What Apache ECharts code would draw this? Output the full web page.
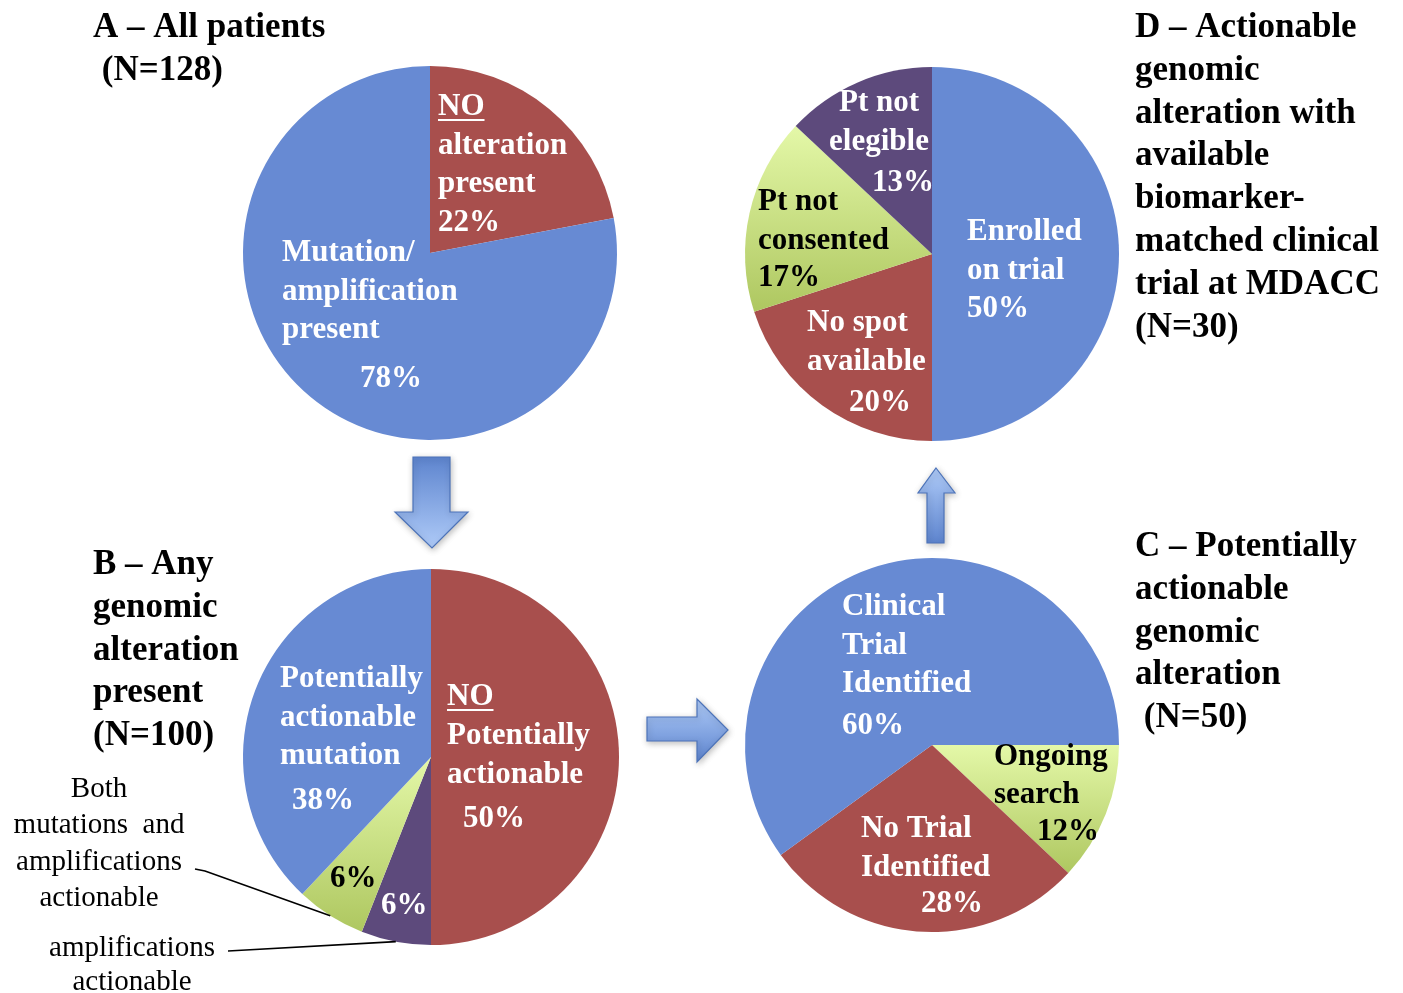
<!DOCTYPE html>
<html>
<head>
<meta charset="utf-8">
<script src="https://cdn.jsdelivr.net/npm/echarts@6/dist/echarts.min.js"></script>
<style>
  html, body { margin: 0; padding: 0; background: #ffffff; }
  #chart { width: 1403px; height: 993px; }
</style>
</head>
<body>
<div id="chart"></div>
<script>
// ---- Data -------------------------------------------------------------
const aNames  = ['NO\nalteration\npresent', 'Mutation/\namplification\npresent'];
const aValues = [22, 78];

const bNames  = ['NO\nPotentially\nactionable', 'amplifications\nactionable',
                 'Both\nmutations  and\namplifications\nactionable', 'Potentially\nactionable\nmutation'];
const bValues = [50, 6, 6, 38];

const cNames  = ['Ongoing\nsearch', 'No Trial\nIdentified', 'Clinical\nTrial\nIdentified'];
const cValues = [12, 28, 60];

const dNames  = ['Enrolled\non trial', 'No spot\navailable', 'Pt not\nconsented', 'Pt not\nelegible'];
const dValues = [50, 20, 17, 13];

const panelTitles = [
  'A – All patients\n (N=128)',
  'B – Any\ngenomic\nalteration\npresent\n(N=100)',
  'C – Potentially\nactionable\ngenomic\nalteration\n (N=50)',
  'D – Actionable\ngenomic\nalteration with\navailable\nbiomarker-\nmatched clinical\ntrial at MDACC\n(N=30)'
];

// ---- Styling ----------------------------------------------------------
const FONT = '"Liberation Serif", "Times New Roman", serif';
const BLUE = '#678AD3', RED = '#A84F4D', PURPLE = '#5D4A7C';
const GREEN = {
  type: 'linear', x: 0, y: 0, x2: 0, y2: 1,
  colorStops: [{ offset: 0, color: '#E4F8A8' }, { offset: 1, color: '#AEC760' }]
};
const LABEL_FONT = 'bold 31px ' + FONT;
const NOTE_FONT = '29px ' + FONT;
const DY = 2; // baseline nudge for middle-aligned serif text

// Pie placement and in-slice label layout
const panels = [
  { names: aNames, values: aValues, colors: [RED, BLUE], center: [430, 253], r: 187, start: 90,
    labels: [
      { x: 438, y: 105, lh: 38.5, px: 438, py: 220.5, fill: '#fff', under: true },
      { x: 282, y: 251, lh: 38.5, px: 360, py: 377, fill: '#fff' }
    ] },
  { names: bNames, values: bValues, colors: [RED, PURPLE, GREEN, BLUE], center: [431, 757], r: 188, start: 90,
    labels: [
      { x: 447, y: 695, lh: 39, px: 463, py: 817, fill: '#fff', under: true },
      { note: true, x: 132, y: 946, lh: 34, px: 381, py: 904, fill: '#fff', from: [[228, 951]] },
      { note: true, x: 99, y: 787, lh: 36.5, px: 330, py: 877, fill: '#000', from: [[195, 869], [205, 871]] },
      { x: 280, y: 677, lh: 38.5, px: 292, py: 799, fill: '#fff' }
    ] },
  { names: cNames, values: cValues, colors: [GREEN, RED, BLUE], center: [932, 745], r: 187, start: 0,
    labels: [
      { x: 994, y: 755, lh: 38, px: 1037, py: 830, fill: '#000' },
      { x: 861, y: 827, lh: 39, px: 921, py: 902, fill: '#fff' },
      { x: 842, y: 605, lh: 38.5, px: 842, py: 724, fill: '#fff' }
    ] },
  { names: dNames, values: dValues, colors: [BLUE, RED, GREEN, PURPLE], center: [932, 254], r: 187, start: 90,
    labels: [
      { x: 967, y: 230, lh: 39, px: 967, py: 307, fill: '#fff' },
      { x: 807, y: 321, lh: 39, px: 849, py: 401, fill: '#fff' },
      { x: 758, y: 200, lh: 39, px: 758, py: 276, fill: '#000' },
      { x: 879, y: 101, lh: 39, align: 'center', px: 872, py: 181, fill: '#fff' }
    ] }
];

const titlePos = [[93, 6.6], [93, 543.6], [1135, 525.6], [1135, 6.6]];

// ---- Helpers ----------------------------------------------------------
const measureCtx = document.createElement('canvas').getContext('2d');
function textWidth(str, font) { measureCtx.font = font; return measureCtx.measureText(str).width; }

function text(str, x, y, font, fill, align) {
  return {
    type: 'text', z: 20, silent: true, x: x, y: y + DY,
    style: { text: str, font: font, fill: fill, align: align || 'left', verticalAlign: 'middle',
             textAlign: align || 'left', textVerticalAlign: 'middle' }
  };
}

// point on the rim at the middle of slice i
function rimPoint(p, i) {
  const total = p.values.reduce((s, v) => s + v, 0);
  let before = 0;
  for (let k = 0; k < i; k++) before += p.values[k];
  const frac = (before + p.values[i] / 2) / total;
  const theta = (p.start - 360 * frac) * Math.PI / 180;
  return [p.center[0] + p.r * Math.cos(theta), p.center[1] - p.r * Math.sin(theta)];
}

// ---- Build ------------------------------------------------------------
const series = [];
const graphics = [];

panels.forEach(p => {
  series.push({
    type: 'pie', center: p.center, radius: p.r, startAngle: p.start, clockwise: true,
    silent: true, animation: false, avoidLabelOverlap: false,
    label: { show: false }, labelLine: { show: false },
    itemStyle: { borderWidth: 0 },
    data: p.names.map((n, i) => ({ name: n, value: p.values[i], itemStyle: { color: p.colors[i] } }))
  });

  p.labels.forEach((L, i) => {
    const lines = p.names[i].split('\n');
    const pct = p.values[i] + '%';
    if (L.note) {
      lines.forEach((ln, k) => graphics.push(text(ln, L.x, L.y + k * L.lh, NOTE_FONT, '#000', 'center')));
      const pts = L.from.concat([rimPoint(p, i)]);
      graphics.push({ type: 'polyline', z: 20, silent: true, shape: { points: pts },
                      style: { stroke: '#000', lineWidth: 1.6, fill: null } });
    } else {
      lines.forEach((ln, k) => graphics.push(text(ln, L.x, L.y + k * L.lh, LABEL_FONT, L.fill, L.align)));
      if (L.under) {
        const w = textWidth(lines[0], LABEL_FONT);
        graphics.push({ type: 'line', z: 20, silent: true,
                        shape: { x1: L.x, y1: L.y + DY + 13, x2: L.x + w, y2: L.y + DY + 13 },
                        style: { stroke: L.fill, lineWidth: 2 } });
      }
    }
    graphics.push(text(pct, L.px, L.py, LABEL_FONT, L.fill, 'left'));
  });
});

// flow arrows between the panels
function arrow(points, grad) {
  return {
    type: 'polygon', z: 5, silent: true, shape: { points: points },
    style: {
      fill: Object.assign({ type: 'linear', colorStops: [
        { offset: 0, color: '#5D84CE' }, { offset: 1, color: '#AFCBF8' }] }, grad),
      stroke: '#4C73B9', lineWidth: 1.2,
      shadowBlur: 6, shadowColor: 'rgba(0,0,0,0.25)', shadowOffsetX: 1, shadowOffsetY: 2
    }
  };
}
graphics.push(arrow([[413, 457], [450, 457], [450, 512], [468, 512], [432, 548], [395, 512], [413, 512]],
                    { x: 0, y: 0, x2: 0, y2: 1 }));
graphics.push(arrow([[647, 717], [697, 717], [697, 699], [728, 730], [697, 762], [697, 741], [647, 741]],
                    { x: 0, y: 1, x2: 0, y2: 0 }));
graphics.push(arrow([[936, 468], [955, 493], [944, 493], [944, 543], [927, 543], [927, 493], [918, 493]],
                    { x: 0, y: 1, x2: 0, y2: 0 }));

const option = {
  backgroundColor: '#ffffff',
  animation: false,
  title: panelTitles.map((t, i) => ({
    text: t, left: titlePos[i][0], top: titlePos[i][1], padding: 0,
    textStyle: { fontFamily: FONT, fontSize: 35, fontWeight: 'bold', color: '#000', lineHeight: 42.8 }
  })),
  series: series,
  graphic: { elements: graphics }
};

const chart = echarts.init(document.getElementById('chart'), null, { renderer: 'canvas' });
chart.setOption(option);
</script>
</body>
</html>
